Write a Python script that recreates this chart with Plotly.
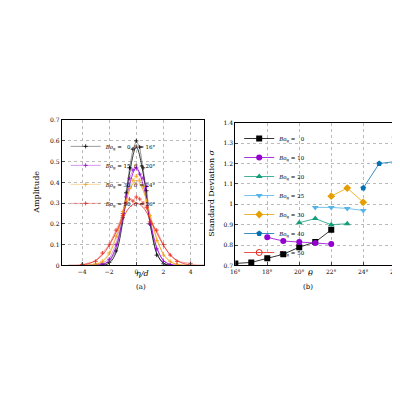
import plotly.graph_objects as go

# (a) fitted curves, sampled every 0.5
eta = [-5, -4.5, -4, -3.5, -3, -2.5, -2, -1.5, -1, -0.5, 0, 0.5, 1, 1.5, 2, 2.5, 3, 3.5, 4, 4.5, 5]
fit_b0 = [0, 0, 0, 0, 0, 0.001, 0.011, 0.061, 0.211, 0.445, 0.57, 0.445, 0.211, 0.061, 0.011, 0.001, 0, 0, 0, 0, 0]
fit_b15 = [0, 0, 0, 0, 0.001, 0.005, 0.024, 0.088, 0.224, 0.39, 0.47, 0.39, 0.224, 0.088, 0.024, 0.005, 0.001, 0, 0, 0, 0]
fit_b30 = [0, 0, 0, 0.001, 0.005, 0.018, 0.055, 0.133, 0.249, 0.362, 0.41, 0.362, 0.249, 0.133, 0.055, 0.018, 0.005, 0.001, 0, 0, 0]
fit_b50 = [0.001, 0.001, 0.003, 0.009, 0.024, 0.051, 0.097, 0.159, 0.226, 0.28, 0.30, 0.28, 0.226, 0.159, 0.097, 0.051, 0.024, 0.009, 0.003, 0.001, 0.001]

# (a) measured points
pts_x = [-4, -3, -2.5, -2, -1.5, -1, -0.75, -0.5, -0.25, 0, 0.25, 0.5, 0.75, 1, 1.5, 2, 2.5, 3, 4]
pts_b0 = [0, 0, 0.003, 0.015, 0.07, 0.23, 0.35, 0.47, 0.56, 0.6, 0.57, 0.47, 0.36, 0.2, 0.05, 0.008, 0, 0, 0]
pts_b15 = [0, 0.003, 0.01, 0.03, 0.1, 0.25, 0.33, 0.42, 0.46, 0.47, 0.44, 0.42, 0.38, 0.2, 0.08, 0.02, 0.005, 0, 0]
pts_b30 = [0, 0.008, 0.02, 0.06, 0.14, 0.26, 0.31, 0.37, 0.41, 0.43, 0.41, 0.38, 0.31, 0.24, 0.12, 0.05, 0.02, 0.005, 0]
pts_b50 = [0.005, 0.02, 0.06, 0.1, 0.17, 0.24, 0.3, 0.32, 0.31, 0.33, 0.32, 0.3, 0.28, 0.21, 0.17, 0.1, 0.05, 0.02, 0.01]

# (b) standard deviation vs angle
th_b0 = [16, 17, 18, 19, 20, 21, 22]
sd_b0 = [0.71, 0.715, 0.735, 0.755, 0.79, 0.815, 0.875]
th_b10 = [18, 19, 20, 21, 22]
sd_b10 = [0.838, 0.82, 0.815, 0.81, 0.805]
th_b20 = [20, 21, 22, 23]
sd_b20 = [0.91, 0.93, 0.90, 0.905]
th_b25 = [21, 22, 23, 24]
sd_b25 = [0.985, 0.985, 0.98, 0.97]
th_b30 = [22, 23, 24]
sd_b30 = [1.04, 1.08, 1.01]
th_b40 = [24, 25, 26]
sd_b40 = [1.08, 1.2, 1.21]
th_b50 = [26]
sd_b50 = [1.33]

amp_ticks = [0, 0.1, 0.2, 0.3, 0.4, 0.5, 0.6, 0.7]
sd_ticks = [0.7, 0.8, 0.9, 1.0, 1.1, 1.2, 1.3, 1.4]

fig = go.Figure()

left = [("black", fit_b0, pts_b0, "  0, <i>θ</i> = 16°"),
        ("#9400d3", fit_b15, pts_b15, "15, <i>θ</i> = 20°"),
        ("#f0a010", fit_b30, pts_b30, "30, <i>θ</i> = 24°"),
        ("#e8261c", fit_b50, pts_b50, "50, <i>θ</i> = 26°")]
for col, fit, pts, lab in left:
    fig.add_trace(go.Scatter(x=eta, y=fit, mode="lines", line=dict(color=col, width=0.8, shape="spline"),
                             showlegend=False, xaxis="x", yaxis="y"))
    fig.add_trace(go.Scatter(x=pts_x, y=pts, mode="markers+lines",
                             line=dict(color=col, width=0.4),
                             marker=dict(symbol="cross-thin", size=3, line=dict(color=col, width=0.8)),
                             name="<i>Bo</i><sub>g</sub> = " + lab, legend="legend",
                             xaxis="x", yaxis="y"))

right = [("black", "square", th_b0, sd_b0, "  0"),
         ("#9400d3", "circle", th_b10, sd_b10, "10"),
         ("#139d7b", "triangle-up", th_b20, sd_b20, "20"),
         ("#56b4e9", "triangle-down", th_b25, sd_b25, "25"),
         ("#e69f00", "diamond", th_b30, sd_b30, "30"),
         ("#0072b2", "pentagon", th_b40, sd_b40, "40"),
         ("#e8261c", "circle-open-dot", th_b50, sd_b50, "50")]
for col, sym, th, sd, lab in right:
    fig.add_trace(go.Scatter(x=th, y=sd, mode="lines+markers", line=dict(color=col, width=0.8),
                             marker=dict(symbol=sym, size=6, color=col),
                             name="<i>Bo</i><sub>g</sub> = " + lab, legend="legend2",
                             xaxis="x2", yaxis="y2"))

ax = dict(showline=True, mirror=True, linecolor="black", linewidth=1, ticks="inside", ticklen=3,
          showgrid=True, gridcolor="#bbbbbb", griddash="dot", zeroline=False,
          tickfont=dict(size=6, family="DejaVu Serif"))
fig.update_layout(
    width=400, height=400, margin=dict(l=0, r=0, t=0, b=0),
    plot_bgcolor="white", paper_bgcolor="white",
    font=dict(family="DejaVu Serif", color="black"),
    xaxis=dict(ax, domain=[0.125, 0.49], range=[-5.5, 5], tickvals=[-4, -2, 0, 2, 4], anchor="y"),
    yaxis=dict(ax, domain=[0.355, 0.725], range=[0, 0.7], tickvals=amp_ticks,
               ticktext=[f"{v:g}" for v in amp_ticks], anchor="x"),
    xaxis2=dict(ax, domain=[0.57, 0.98], range=[16, 26], tickvals=[16, 18, 20, 22, 24, 26],
                ticktext=["16°", "18°", "20°", "22°", "24°", "26°"], anchor="y2"),
    yaxis2=dict(ax, domain=[0.355, 0.718], range=[0.7, 1.4], tickvals=sd_ticks,
                ticktext=[f"{v:g}" for v in sd_ticks], anchor="x2"),
    legend=dict(x=0.135, y=0.695, xanchor="left", yanchor="top", bgcolor="rgba(0,0,0,0)",
                font=dict(size=5.5), tracegroupgap=0, itemwidth=30, traceorder="normal"),
    legend2=dict(x=0.58, y=0.715, xanchor="left", yanchor="top", bgcolor="rgba(0,0,0,0)",
                 font=dict(size=5.5), tracegroupgap=0, itemwidth=30),
    annotations=[
        dict(text="Amplitude", x=0.045, y=0.54, xref="paper", yref="paper", textangle=-90,
             showarrow=False, font=dict(size=8)),
        dict(text="<i>η/d</i>", x=0.31, y=0.318, xref="paper", yref="paper", showarrow=False, font=dict(size=8)),
        dict(text="(a)", x=0.31, y=0.285, xref="paper", yref="paper", showarrow=False, font=dict(size=7)),
        dict(text="Standard Deviation <i>σ</i>", x=0.51, y=0.54, xref="paper", yref="paper", textangle=-90,
             showarrow=False, font=dict(size=8)),
        dict(text="<i>θ</i>", x=0.775, y=0.318, xref="paper", yref="paper", showarrow=False, font=dict(size=8)),
        dict(text="(b)", x=0.775, y=0.285, xref="paper", yref="paper", showarrow=False, font=dict(size=7)),
    ],
)

fig.write_html("out.html")
